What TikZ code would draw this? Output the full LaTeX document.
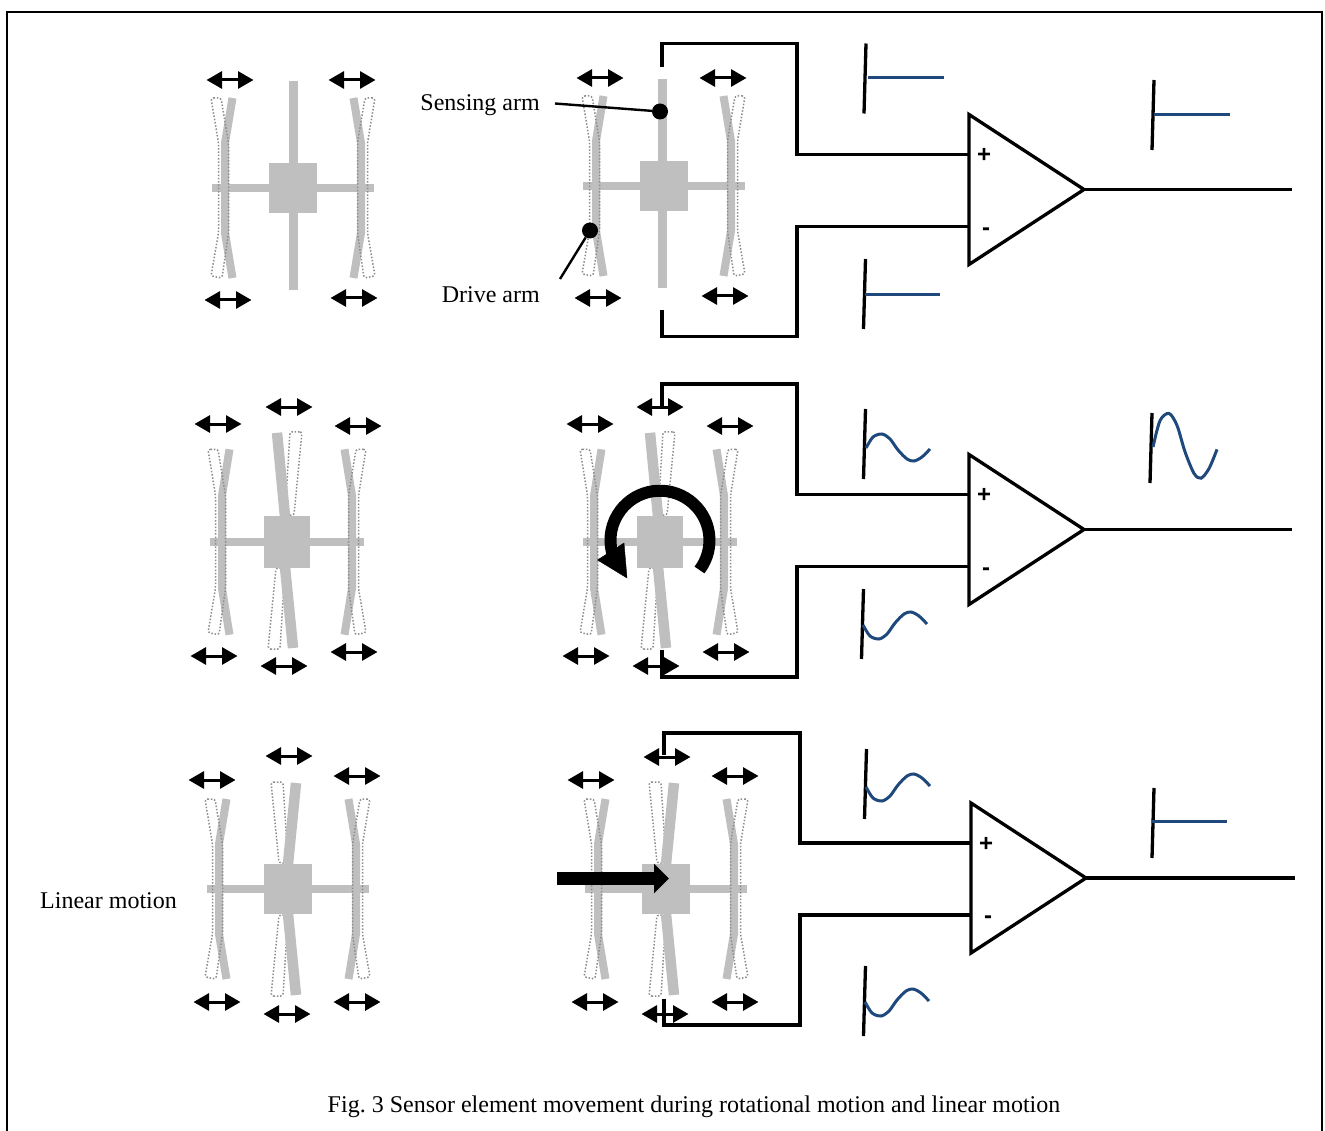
\documentclass[tikz,border=0pt]{standalone}
\usepackage{fontspec}
\setmainfont{Liberation Serif}
\newfontfamily\signfont{Liberation Sans}
\usetikzlibrary{arrows.meta}
\definecolor{armgray}{HTML}{BFBFBF}
\definecolor{ghostgray}{HTML}{8C8C8C}
\definecolor{traceblue}{HTML}{1F497D}
\frenchspacing
\begin{document}
\begin{tikzpicture}[x=1pt, y=-1pt,
  every node/.style={font=\fontsize{24}{28}\selectfont, inner sep=0pt},
  armsolid/.style={draw=armgray, line width=8pt},
  armghost/.style={draw=ghostgray, line width=1.5pt, dash pattern=on 1.5pt off 1.8pt, rounded corners=2.5pt},
  wire/.style={draw=black, line width=3.3pt, line join=miter},
  shake/.style={draw=black, line width=3pt, {Triangle[length=15.5pt,width=17pt]}-{Triangle[length=15.5pt,width=17pt]}},
  trace/.style={draw=traceblue, line width=3pt},
  axisbar/.style={draw=black, line width=3.3pt},
  leader/.style={draw=black, line width=2.4pt},
  blackdot/.style={circle, fill=black, minimum size=16pt},
  ampsign/.style={font=\signfont\bfseries\fontsize{24}{27}\selectfont},
  motion/.style={draw=black, fill=black}]

\useasboundingbox (0,0) rectangle (1325,1131);

\def\drivearm{
  \draw[armsolid] (8.5,-90) -- (1,-45) -- (1,45) -- (8.5,90);
  \draw[armghost] (-13,-90) -- (-3,-90) -- (4.5,-45) -- (4.5,45) -- (-2,90) -- (-13,88) -- (-5.5,45) -- (-5.5,-45) -- cycle;
}
\def\drivearms#1#2#3{
  \begin{scope}[xshift=#1, yscale=#3]
    \drivearm
  \end{scope}
  \begin{scope}[xshift=#2, xscale=-1, yscale=#3]
    \drivearm
  \end{scope}
}
\def\armbody#1#2#3{
  \draw[armgray, line width=8pt] (-#3,0) -- (#3,0);
  \fill[armgray] (-#1/2,-#2/2) rectangle (#1/2,#2/2);
}
\def\sensehalf#1#2#3{
  \begin{scope}[xshift=#3, xscale=#1, yscale=#2]
    \draw[armghost] (-17,-107) -- (-5,-107) -- (0,-26) -- (-9,-26) -- cycle;
    \draw[armsolid, line width=10.5pt] (0,-25) -- (8,-106);
  \end{scope}
}
\def\shakeat#1#2{
  \draw[shake] (#1-23.5,#2) -- (#1+23.5,#2);
}
\def\scopebar#1#2{
  \draw[axisbar] (#1+1,#2-34) -- (#1-1,#2+36);
}
\def\wave#1#2#3{
  \draw[trace, shift={(#1,#2)}, yscale=#3] plot[smooth] coordinates {(0,0) (7,-11) (16,-14) (24,-9) (32,2) (41,11) (48,13) (56,9) (64,1)};
}
\def\amp#1{
  \coordinate (tl#1) at (0,-75);
  \coordinate (apex#1) at (115,0);
  \coordinate (bl#1) at (0,75);
  \coordinate (plus#1) at (0,-35);
  \coordinate (minus#1) at (0,37);
  \draw[wire] (tl#1) -- (apex#1) -- (bl#1) -- cycle;
  \node[ampsign] (plussign#1) at (15,-34) {+};
  \node[ampsign] (minussign#1) at (17,42) {-};
}

\draw[line width=1.5pt] (7,1131) -- (7,12) -- (1322,12) -- (1322,1131);

% ROW 1 LEFT
\begin{scope}[shift={(293,188)}]
  \draw[armsolid, line width=9pt] (0,-107) -- (0,102);
  \armbody{48}{50}{81}
  \drivearms{-69}{69}{1}
\end{scope}
\shakeat{230}{80}
\shakeat{352}{80}
\shakeat{228}{300}
\shakeat{354}{298}

% ROW 1 RIGHT
\begin{scope}[shift={(664,186)}]
  \draw[armsolid, line width=9pt] (-1.5,-107) -- (-1.5,102);
  \armbody{48}{50}{81}
  \drivearms{-69}{68}{1}
\end{scope}
\shakeat{600}{78}
\shakeat{723}{78}
\shakeat{598}{298}
\shakeat{725}{296}

% ROW 1 AMP
\begin{scope}[shift={(969,189.5)}]
  \amp{A}
\end{scope}
\coordinate (upA) at (662,67);
\coordinate (upbendA) at (797,43.5);
\coordinate (dnA) at (662,310);
\coordinate (dnbendA) at (797,336.5);
\coordinate (outA) at (1292,189.5);
\draw[wire] (upA) |- (upbendA) |- (plusA);
\draw[wire] (dnA) |- (dnbendA) |- (minusA);
\draw[wire] (apexA) -- (outA);
\scopebar{865}{77.5}
\draw[trace] (868,77.5) -- (944,77.5);
\scopebar{864.5}{293}
\draw[trace] (865,294.5) -- (940,294.5);
\scopebar{1153}{114}
\draw[trace] (1154,114.5) -- (1230,114.5);

% LABELS
\node[blackdot] (sensedot) at (660,111.5) {};
\node[blackdot] (drivedot) at (590,230.5) {};
\node[anchor=east] (sensinglabel) at (540,105) {Sensing arm};
\node[anchor=east] (drivelabel) at (540,295) {Drive arm};
\coordinate (sensefoot) at (555,103.5);
\coordinate (drivefoot) at (560,279);
\draw[leader] (sensefoot) -- (sensedot);
\draw[leader] (drivefoot) -- (drivedot);

% ROW 2 LEFT
\begin{scope}[shift={(287,542)}]
  \sensehalf{-1}{1.03}{-2}
  \sensehalf{1}{-1}{-2}
  \armbody{46}{52}{77}
  \drivearms{-66}{66}{1.03}
\end{scope}
\shakeat{218}{424}
\shakeat{289}{407}
\shakeat{358}{426}
\shakeat{214}{656}
\shakeat{284}{666}
\shakeat{354}{652}

% ROW 2 RIGHT
\begin{scope}[shift={(660,542)}]
  \sensehalf{-1}{1.03}{-2}
  \sensehalf{1}{-1}{-2}
  \armbody{46}{52}{77}
  \drivearms{-67}{65}{1.03}
  \draw[motion, fill=none, line width=12pt] (39.5,28) arc[start angle=37, end angle=-195, radius=49.5];
\end{scope}
\fill[motion] (597.5,560) -- (624,543) -- (627,578) -- cycle;
\shakeat{590}{424}
\shakeat{660}{407}
\shakeat{730}{426}
\shakeat{586}{656}
\shakeat{656}{666}
\shakeat{726}{652}

% ROW 2 AMP
\begin{scope}[shift={(969,529.5)}]
  \amp{B}
\end{scope}
\coordinate (upB) at (662,408);
\coordinate (upbendB) at (797,384);
\coordinate (dnB) at (662,650);
\coordinate (dnbendB) at (797,677);
\coordinate (outB) at (1292,529.5);
\draw[wire] (upB) |- (upbendB) |- (plusB);
\draw[wire] (dnB) |- (dnbendB) |- (minusB);
\draw[wire] (apexB) -- (outB);
\scopebar{864.5}{443}
\wave{866}{448}{1}
\scopebar{862.5}{623}
\wave{863}{625}{-1}
\scopebar{1151}{447}
\wave{1153}{447}{2.4}

% ROW 3 LEFT
\begin{scope}[shift={(288,889)}]
  \sensehalf{1}{1}{0}
  \sensehalf{1}{-1}{0}
  \armbody{48}{50}{81}
  \drivearms{-70}{69}{1}
\end{scope}
\shakeat{212}{780}
\shakeat{289}{756}
\shakeat{357}{776}
\shakeat{217}{1002}
\shakeat{287}{1014}
\shakeat{357}{1002}
\node[anchor=west] (linearlabel) at (40,901) {Linear motion};

% ROW 3 RIGHT
\begin{scope}[shift={(666,889)}]
  \sensehalf{1}{1}{0}
  \sensehalf{1}{-1}{0}
  \armbody{48}{50}{81}
  \drivearms{-69}{69}{1}
\end{scope}
\draw[draw=black, line width=13pt, -{Triangle[length=15pt,width=29pt]}] (557,878.5) -- (669,878.5);
\shakeat{591}{780}
\shakeat{667}{757}
\shakeat{735}{776}
\shakeat{595}{1002}
\shakeat{665}{1014}
\shakeat{735}{1002}

% ROW 3 AMP
\begin{scope}[shift={(971,878)}]
  \amp{C}
\end{scope}
\coordinate (upC) at (664,755);
\coordinate (upbendC) at (800,733);
\coordinate (dnC) at (664,999);
\coordinate (dnbendC) at (800,1025);
\coordinate (outC) at (1295,878);
\draw[wire] (upC) |- (upbendC) |- (plusC);
\draw[wire] (dnC) |- (dnbendC) |- (minusC);
\draw[wire] (apexC) -- (outC);
\scopebar{865.5}{783}
\wave{866}{787}{-1}
\scopebar{864.5}{1000}
\wave{865}{1002}{-1}
\scopebar{1153}{822}
\draw[trace] (1152,821) -- (1227,821);

\node (caption) at (694,1106.5) {Fig. 3 Sensor element movement during rotational motion and linear motion};

\end{tikzpicture}
\end{document}
